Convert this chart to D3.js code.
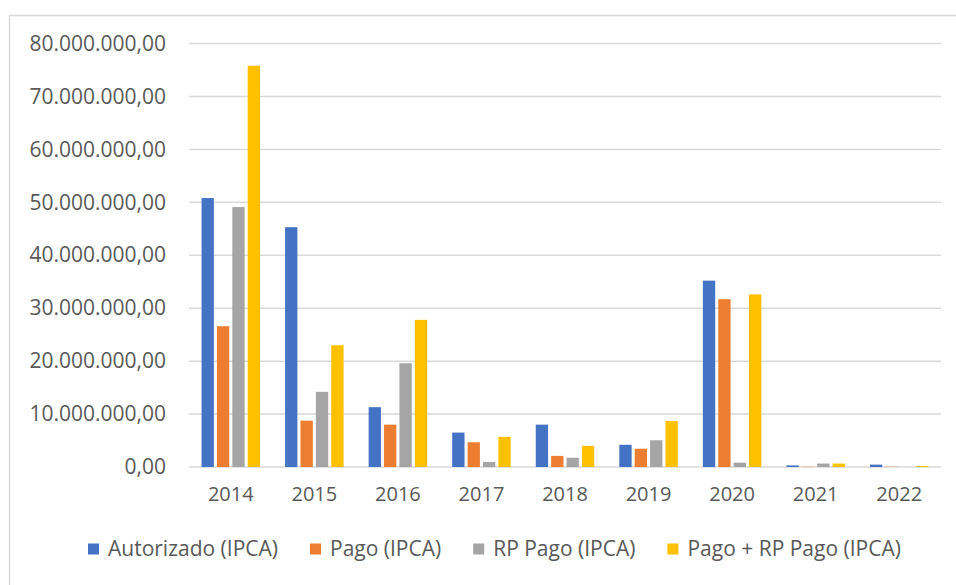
<!DOCTYPE html>
<html>
<head>
<meta charset="utf-8">
<script src="https://cdn.jsdelivr.net/npm/d3@7"></script>
<style>
  body { margin: 0; background: #fff; }
  svg text { font-family: "Open Sans", sans-serif; fill: #595959; }
</style>
</head>
<body>
<svg id="chart" width="956" height="585"></svg>
<script>
// chart data (values in R$)
var years = ["2014", "2015", "2016", "2017", "2018", "2019", "2020", "2021", "2022"];
var seriesNames = ["Autorizado (IPCA)", "Pago (IPCA)", "RP Pago (IPCA)", "Pago + RP Pago (IPCA)"];
var colors = ["#4472c4", "#ed7d31", "#a5a5a5", "#ffc000"];

var autorizado = [50800000, 45300000, 11300000, 6500000, 8000000, 4200000, 35200000, 300000, 450000];
var pago       = [26600000, 8750000, 8000000, 4670000, 2100000, 3450000, 31700000, 50000, 50000];
var rpPago     = [49100000, 14200000, 19600000, 950000, 1750000, 5050000, 820000, 650000, 0];
var pagoRp     = [75800000, 23000000, 27800000, 5700000, 4000000, 8700000, 32600000, 650000, 180000];

var yTicks = [0, 10000000, 20000000, 30000000, 40000000, 50000000, 60000000, 70000000, 80000000];

var allSeries = [autorizado, pago, rpPago, pagoRp];

var svg = d3.select("#chart");

// outer chart frame (right and bottom edges fall outside the picture)
svg.append("rect")
    .attr("x", 9.5).attr("y", 15.5)
    .attr("width", 980).attr("height", 600)
    .attr("fill", "none")
    .attr("stroke", "#d9d9d9")
    .attr("stroke-width", 1.5);

var plot = {left: 189, right: 941, top: 43.5, bottom: 467};

var x0 = d3.scaleBand()
    .domain(years)
    .range([plot.left, plot.right])
    .paddingInner(0.3)
    .paddingOuter(0.15);

var x1 = d3.scaleBand()
    .domain(d3.range(seriesNames.length))
    .range([0, x0.bandwidth()])
    .paddingInner(0.2);

var y = d3.scaleLinear()
    .domain([0, 80000000])
    .range([plot.bottom, plot.top]);

var fmt = function(v) {
    // pt-BR style: 80.000.000,00
    var s = d3.format(",.2f")(v);
    return s.replace(/,/g, "#").replace(".", ",").replace(/#/g, ".");
};

// gridlines
svg.append("g")
    .selectAll("line")
    .data(yTicks)
    .enter().append("line")
        .attr("x1", plot.left).attr("x2", plot.right)
        .attr("y1", function(d) { return y(d); })
        .attr("y2", function(d) { return y(d); })
        .attr("stroke", "#d9d9d9")
        .attr("stroke-width", 1.5);

// y axis labels
var yAxis = d3.axisLeft(y).tickValues(yTicks).tickFormat(fmt).tickSize(0).tickPadding(0);
svg.append("g")
    .attr("transform", "translate(166,0)")
    .call(yAxis)
    .call(function(g) { g.select(".domain").remove(); })
    .selectAll("text")
        .attr("font-size", "21px")
        .attr("font-family", "Open Sans, sans-serif")
        .attr("fill", "#595959");

// x axis labels
var xAxis = d3.axisBottom(x0).tickSize(0).tickPadding(0);
svg.append("g")
    .attr("transform", "translate(0,487)")
    .call(xAxis)
    .call(function(g) { g.select(".domain").remove(); })
    .selectAll("text")
        .attr("font-size", "20px")
        .attr("font-family", "Open Sans, sans-serif")
        .attr("fill", "#595959");

// bars
var groups = svg.append("g")
    .selectAll("g")
    .data(years)
    .enter().append("g")
        .attr("transform", function(d) { return "translate(" + x0(d) + ",0)"; });

groups.selectAll("rect")
    .data(function(d, i) {
        return allSeries.map(function(s, k) { return {k: k, v: s[i]}; });
    })
    .enter().append("rect")
        .attr("x", function(d) { return x1(d.k); })
        .attr("width", x1.bandwidth())
        .attr("y", function(d) { return y(d.v); })
        .attr("height", function(d) { return y(0) - y(d.v); })
        .attr("fill", function(d) { return colors[d.k]; });

// legend
var legend = svg.append("g").attr("transform", "translate(88,549)");
var lx = 0;
seriesNames.forEach(function(name, k) {
    var item = legend.append("g").attr("transform", "translate(" + lx + ",0)");
    item.append("rect")
        .attr("x", 0).attr("y", -5.5)
        .attr("width", 11).attr("height", 11)
        .attr("fill", colors[k]);
    var t = item.append("text")
        .attr("x", 20).attr("y", 0)
        .attr("dy", "0.35em")
        .attr("font-size", "21px")
        .text(name);
    lx += 20 + t.node().getComputedTextLength() + 32;
});
</script>
</body>
</html>
